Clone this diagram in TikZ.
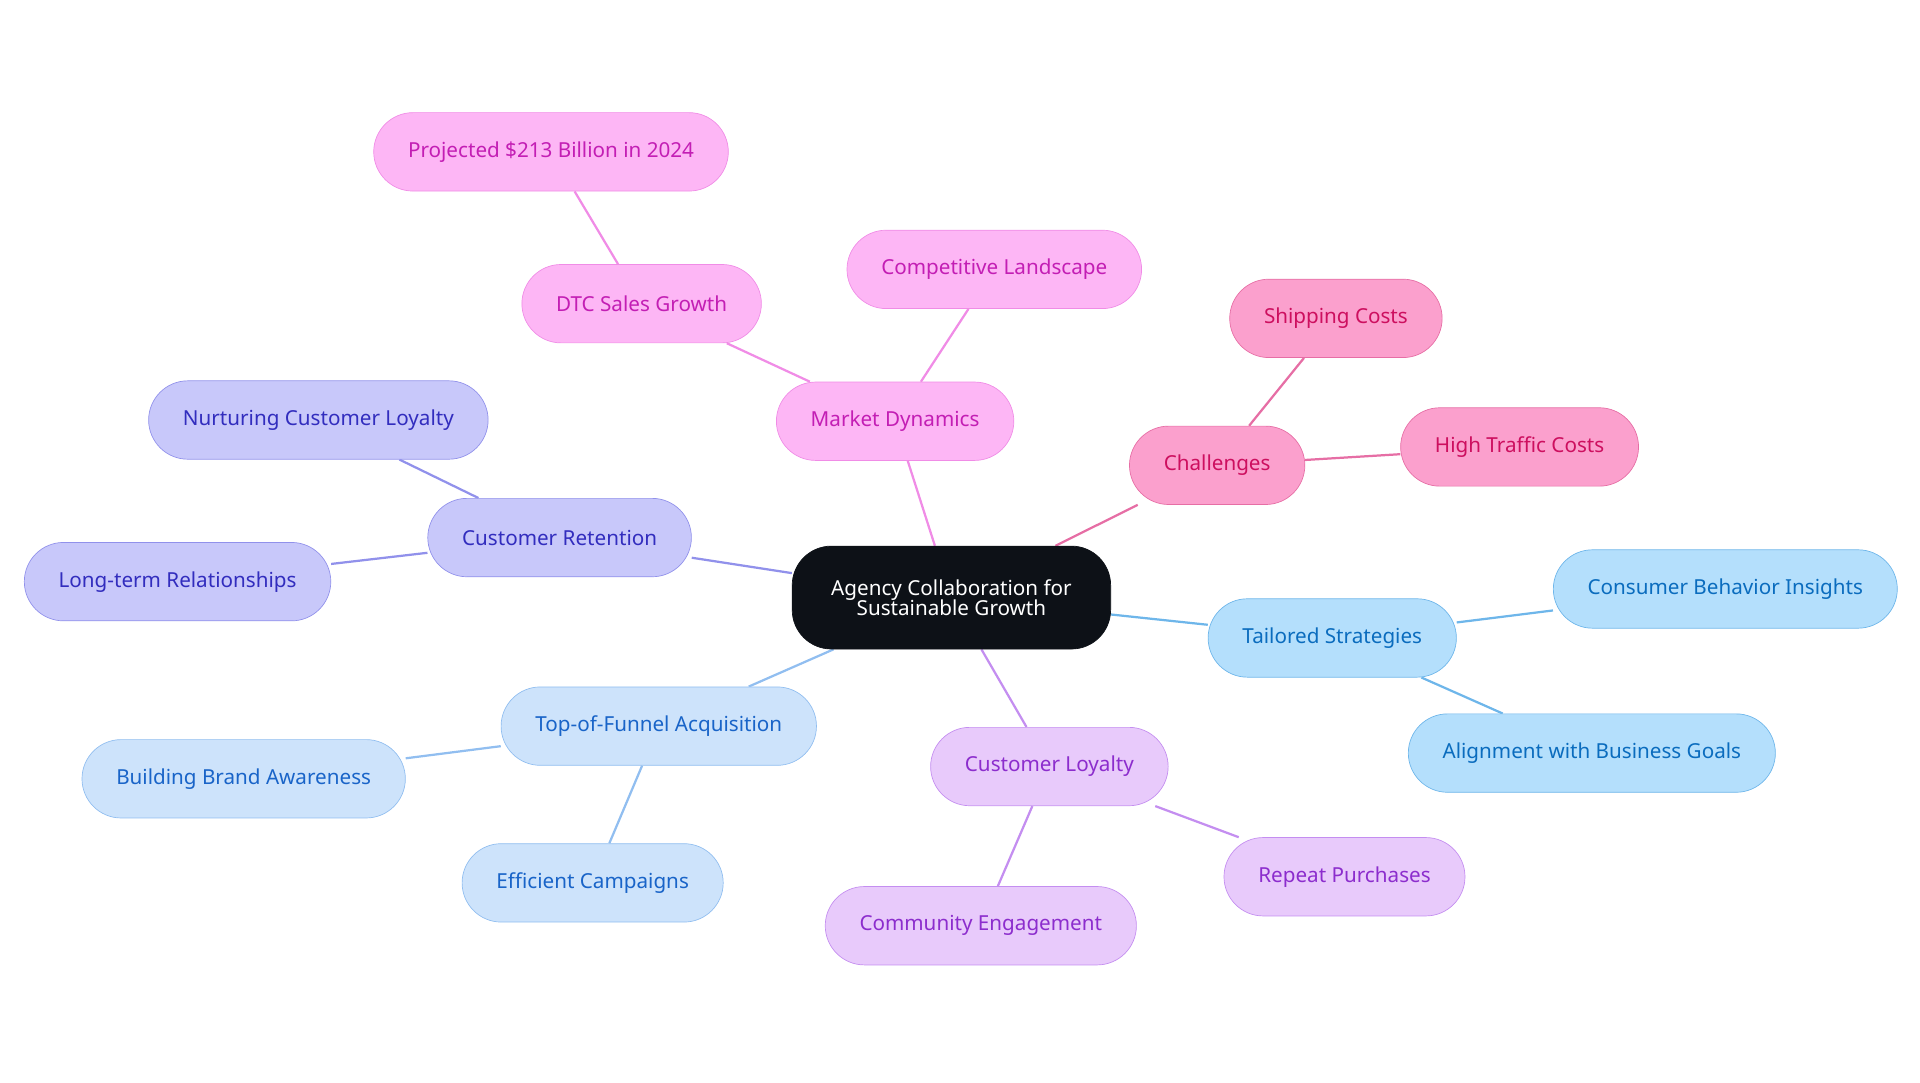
\documentclass[tikz,border=0pt]{standalone}
\usepackage{fontspec}
\setmainfont{Noto Sans}
\usetikzlibrary{backgrounds}
\definecolor{rootfill}{RGB}{13,17,23}
\definecolor{pinkfill}{RGB}{253,182,245}
\definecolor{pinkline}{RGB}{240,140,230}
\definecolor{pinktext}{RGB}{195,30,180}
\definecolor{redfill}{RGB}{251,160,205}
\definecolor{redline}{RGB}{230,110,165}
\definecolor{redtext}{RGB}{205,15,95}
\definecolor{bluefill}{RGB}{180,223,252}
\definecolor{blueline}{RGB}{110,182,234}
\definecolor{bluetext}{RGB}{10,108,190}
\definecolor{lilacfill}{RGB}{232,202,251}
\definecolor{lilacline}{RGB}{196,142,240}
\definecolor{lilactext}{RGB}{140,45,205}
\definecolor{skyfill}{RGB}{205,227,251}
\definecolor{skyline}{RGB}{145,190,240}
\definecolor{skytext}{RGB}{25,100,200}
\definecolor{violetfill}{RGB}{200,200,250}
\definecolor{violetline}{RGB}{145,145,235}
\definecolor{violettext}{RGB}{50,45,190}

\begin{document}
\begin{tikzpicture}[x=0.025cm, y=-0.025cm,
  every node/.style={rounded corners=0.8cm, draw, minimum height=1.6cm, inner xsep=0.7cm, font=\fontsize{12}{14}\selectfont},
  pinkbox/.style={fill=pinkfill, draw=pinkline, text=pinktext},
  redbox/.style={fill=redfill, draw=redline, text=redtext},
  bluebox/.style={fill=bluefill, draw=blueline, text=bluetext},
  lilacbox/.style={fill=lilacfill, draw=lilacline, text=lilactext},
  skybox/.style={fill=skyfill, draw=skyline, text=skytext},
  violetbox/.style={fill=violetfill, draw=violetline, text=violettext},
  link/.style={line width=1.3pt}]
\useasboundingbox (0,0) rectangle (1568,884);

\node[fill=rootfill, draw=rootfill, text=white, minimum height=2.1cm, minimum width=6.5cm, align=center] (root) at (777,488) {Agency Collaboration for\\[-2pt]Sustainable Growth};

\node[pinkbox] (market) at (731,344) {Market Dynamics};
\node[pinkbox] (compet) at (812,220) {Competitive Landscape};
\node[pinkbox] (dtc) at (524,248) {DTC Sales Growth};
\node[pinkbox] (proj) at (450,124) {Projected \$213 Billion in 2024};

\node[redbox] (chall) at (994,380) {Challenges};
\node[redbox] (ship) at (1091,260) {Shipping Costs};
\node[redbox] (traffic) at (1241,365) {High Traffic Costs};

\node[bluebox] (tailor) at (1088,521) {Tailored Strategies};
\node[bluebox] (consumer) at (1409,481) {Consumer Behavior Insights};
\node[bluebox] (align) at (1300,615) {Alignment with Business Goals};

\node[lilacbox] (loyal) at (857,626) {Customer Loyalty};
\node[lilacbox] (repeat) at (1098,716) {Repeat Purchases};
\node[lilacbox] (commun) at (801,756) {Community Engagement};

\node[skybox] (funnel) at (538,593) {Top-of-Funnel Acquisition};
\node[skybox] (brand) at (199,636) {Building Brand Awareness};
\node[skybox] (effic) at (484,721) {Efficient Campaigns};

\node[violetbox] (retain) at (457,439) {Customer Retention};
\node[violetbox] (nurture) at (260,343) {Nurturing Customer Loyalty};
\node[violetbox] (longterm) at (145,475) {Long-term Relationships};

% connectors behind the boxes
\begin{scope}[on background layer]
\draw[link, pinkline] (root) -- (market) -- (compet);
\draw[link, pinkline] (market) -- (dtc) -- (proj);
\draw[link, redline] (root) -- (chall) -- (ship);
\draw[link, redline] (chall) -- (traffic);
\draw[link, blueline] (root) -- (tailor) -- (consumer);
\draw[link, blueline] (tailor) -- (align);
\draw[link, lilacline] (root) -- (loyal) -- (repeat);
\draw[link, lilacline] (loyal) -- (commun);
\draw[link, skyline] (root) -- (funnel) -- (brand);
\draw[link, skyline] (funnel) -- (effic);
\draw[link, violetline] (root) -- (retain) -- (nurture);
\draw[link, violetline] (retain) -- (longterm);
\end{scope}
\end{tikzpicture}
\end{document}
